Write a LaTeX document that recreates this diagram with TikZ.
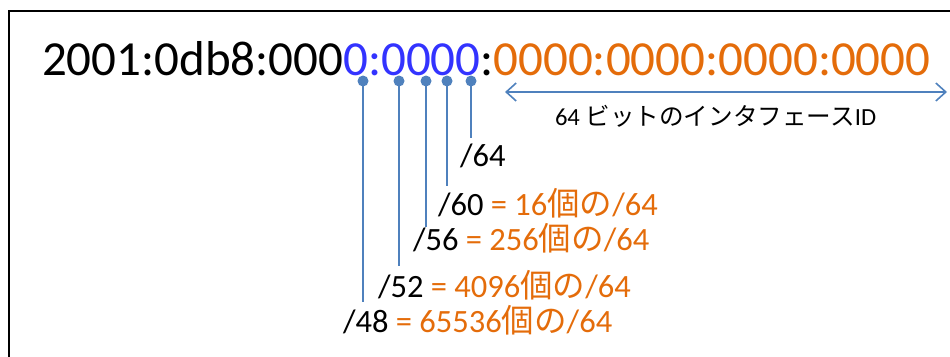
\documentclass[tikz,border=0pt]{standalone}
\usepackage{fontspec}
\setmainfont{Carlito}
\newfontfamily\jp{Noto Sans CJK JP}
\usetikzlibrary{arrows.meta}
\definecolor{ablue}{RGB}{51,51,255}
\definecolor{aorange}{RGB}{228,108,10}
\definecolor{lblue}{RGB}{79,129,189}
\begin{document}
\begin{tikzpicture}[x=1pt,y=-1pt,
  txt/.style={anchor=base west,inner sep=0pt,outer sep=0pt},
  addrfont/.style={font=\fontsize{49}{49}\selectfont},
  lblfont/.style={font=\fontsize{32.5}{32.5}\selectfont},
  idfont/.style={font=\fontsize{24.6}{24.6}\selectfont},
  dot/.style={circle,fill=lblue,inner sep=0pt,minimum size=11pt},
  tick/.style={draw=lblue,line width=1.6pt},
  span/.style={draw=lblue,line width=1.6pt,{Straight Barb[length=10pt,width=18pt]}-{Straight Barb[length=10pt,width=18pt]}},
  frame/.style={draw=black,line width=2pt}]
\useasboundingbox (0,0) rectangle (950,356);
% frame
\coordinate (fb) at (9,360);
\coordinate (fc) at (9,11);
\coordinate (fr) at (952,11);
\draw[frame] (fb) -- (fc) -- (fr);
% address
\node[txt,addrfont] (addr) at (42,75) {2001:0db8:000\textcolor{ablue}{0:0000}:\textcolor{aorange}{0000:0000:0000:0000}};
% dots
\node[dot] (d48) at (363,81) {};
\node[dot] (d52) at (399,81) {};
\node[dot] (d56) at (426,81) {};
\node[dot] (d60) at (447,81) {};
\node[dot] (d64) at (471,81) {};
\coordinate (e48) at (363,302);
\coordinate (e52) at (399,266);
\coordinate (e56) at (426,227);
\coordinate (e60) at (447,186);
\coordinate (e64) at (471,138);
\draw[tick] (d48.center) -- (e48);
\draw[tick] (d52.center) -- (e52);
\draw[tick] (d56.center) -- (e56);
\draw[tick] (d60.center) -- (e60);
\draw[tick] (d64.center) -- (e64);
% labels
\node[txt,lblfont] (l64) at (460,166) {/64};
\node[txt,lblfont] (l60) at (438,215) {/60 \textcolor{aorange}{= 16{\jp 個の}/64}};
\node[txt,lblfont] (l56) at (413,250) {/56 \textcolor{aorange}{= 256{\jp 個の}/64}};
\node[txt,lblfont] (l52) at (378,297) {/52 \textcolor{aorange}{= 4096{\jp 個の}/64}};
\node[txt,lblfont] (l48) at (343,332) {/48 \textcolor{aorange}{= 65536{\jp 個の}/64}};
% interface ID span
\coordinate (al) at (505,92);
\coordinate (ar) at (947,92);
\draw[span] (al) -- (ar);
\node[txt,idfont] (idl) at (555,125) {64 {\jp ビットのインタフェース}ID};
\end{tikzpicture}
\end{document}
